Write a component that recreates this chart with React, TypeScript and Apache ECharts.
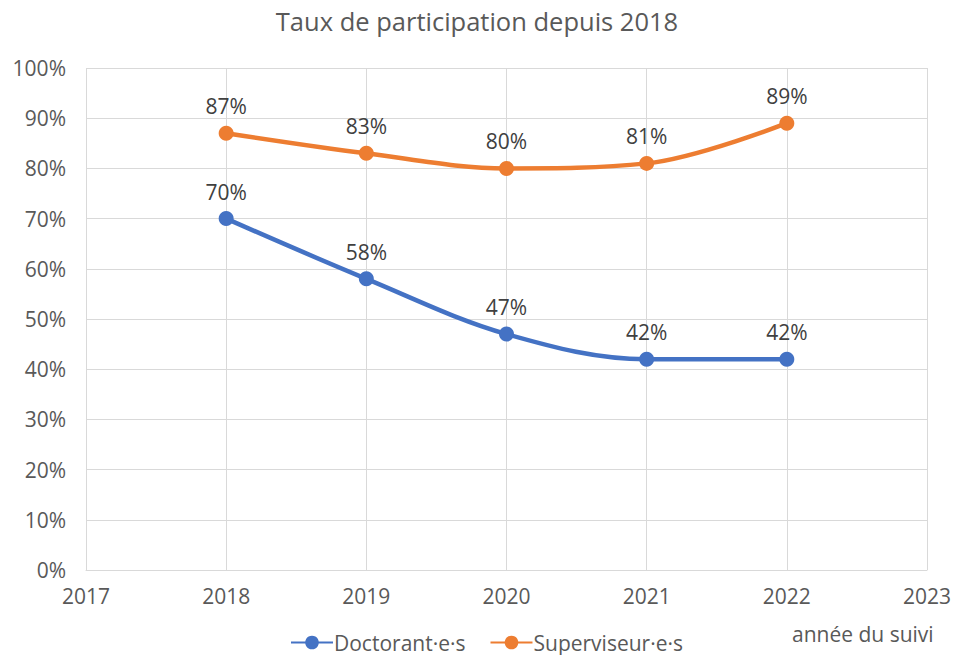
import React, { useEffect, useRef } from "react";
import * as echarts from "echarts";

const years = [2018, 2019, 2020, 2021, 2022];
const doctorants = [70, 58, 47, 42, 42];
const superviseurs = [87, 83, 80, 81, 89];
const seriesNames = ["Doctorant·e·s", "Superviseur·e·s"];
const titleText = "Taux de participation depuis 2018";
const xAxisLabel = "année du suivi";

const FONT = "'Open Sans', 'Noto Sans', sans-serif";

export default function App() {
  const ref = useRef<HTMLDivElement>(null);
  useEffect(() => {
    if (!ref.current) return;
    const chart = echarts.init(ref.current, undefined, { renderer: "svg" });
    const mk = (vals: number[]) => years.map((y, i) => [y, vals[i]]);
    const labelCfg = {
      show: true,
      position: "top" as const,
      distance: 9,
      formatter: (p: any) => p.value[1] + "%",
      fontSize: 21,
      color: "#404040",
      fontFamily: FONT,
    };
    chart.setOption({
      animation: false,
      backgroundColor: "#ffffff",
      title: {
        text: titleText,
        left: "center",
        top: 3,
        textStyle: { fontSize: 25.5, fontWeight: "normal", color: "#595959", fontFamily: FONT },
      },
      grid: { left: 86, right: 27, top: 68, bottom: 85 },
      xAxis: {
        type: "value",
        min: 2017,
        max: 2023,
        interval: 1,
        axisLine: { show: true, lineStyle: { color: "#d9d9d9", width: 1 } },
        axisTick: { show: false },
        splitLine: { show: true, lineStyle: { color: "#d9d9d9", width: 1 } },
        axisLabel: {
          fontSize: 21,
          color: "#595959",
          fontFamily: FONT,
          margin: 15,
          formatter: (v: number) => String(v),
        },
      },
      yAxis: {
        type: "value",
        min: 0,
        max: 100,
        interval: 10,
        axisLine: { show: false },
        axisTick: { show: false },
        splitLine: { show: true, lineStyle: { color: "#d9d9d9", width: 1 } },
        axisLabel: {
          fontSize: 21,
          color: "#595959",
          fontFamily: FONT,
          margin: 20,
          formatter: (v: number) => v + "%",
        },
      },
      legend: {
        left: 285,
        top: 627,
        itemWidth: 42,
        itemHeight: 17,
        itemGap: 24,
        textStyle: { fontSize: 21, color: "#595959", fontFamily: FONT, padding: [0, 0, 0, -4] },
        data: seriesNames,
      },
      graphic: [
        {
          type: "text",
          left: 792,
          top: 623,
          style: { text: xAxisLabel, fontSize: 21, fill: "#595959", fontFamily: FONT },
        },
      ],
      series: [
        {
          name: seriesNames[0],
          type: "line",
          smooth: 0.35,
          data: mk(doctorants),
          symbol: "circle",
          symbolSize: 15,
          lineStyle: { width: 4.5, color: "#4472c4" },
          itemStyle: { color: "#4472c4" },
          label: labelCfg,
        },
        {
          name: seriesNames[1],
          type: "line",
          smooth: 0.35,
          data: mk(superviseurs),
          symbol: "circle",
          symbolSize: 15,
          lineStyle: { width: 4.5, color: "#ed7d31" },
          itemStyle: { color: "#ed7d31" },
          label: labelCfg,
        },
      ],
    });
    return () => chart.dispose();
  }, []);
  return (
    <div
      ref={ref}
      style={{ position: "fixed", left: 0, top: 0, width: 954, height: 655 }}
    />
  );
}
